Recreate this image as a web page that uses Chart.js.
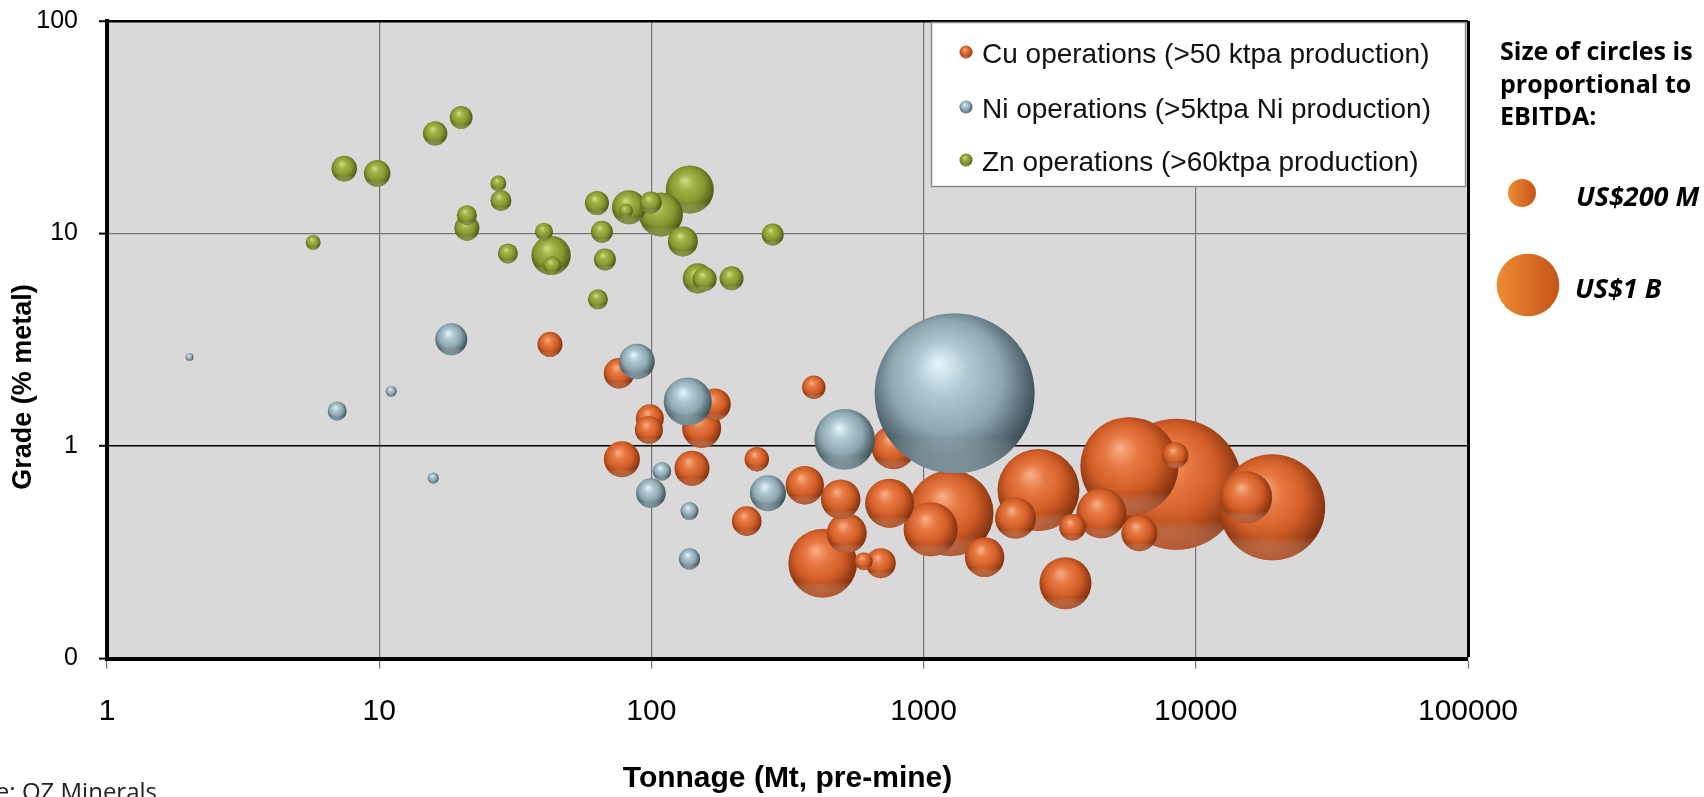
<!DOCTYPE html>
<html>
<head>
<meta charset="utf-8">
<title>Grade vs tonnage of base metal operations</title>
<script src="https://cdn.jsdelivr.net/npm/chart.js@4.4.1/dist/chart.umd.min.js"></script>
<style>
  html, body { margin: 0; padding: 0; background: #ffffff; overflow: hidden; }
  canvas { display: block; }
</style>
</head>
<body>
<canvas id="chart" width="1704" height="797"></canvas>
<script>
// ---- operations: tonnage (Mt, pre-mine), grade (% metal), EBITDA (US$ M) ----
const cuTonnage = [42.4, 76.0, 171, 153, 98.7, 97.9, 77.9, 141, 244, 395, 224, 366, 496, 522, 426, 602, 696,
                   750, 776, 1256, 1061, 1675, 2176, 2642, 3320, 3523, 4500, 5702, 8410, 8480, 6204, 15320, 19090];
const cuGrade   = [3.01, 2.20, 1.57, 1.21, 1.35, 1.19, 0.867, 0.786, 0.867, 1.89, 0.443, 0.654, 0.562, 0.389, 0.281, 0.287, 0.281,
                   0.538, 0.987, 0.483, 0.406, 0.300, 0.458, 0.620, 0.226, 0.415, 0.483, 0.804, 0.905, 0.661, 0.389, 0.574, 0.515];
const cuEbitda  = [159, 236, 261, 388, 200, 200, 331, 313, 152, 140, 224, 376, 400, 408, 1207, 83, 230,
                   612, 494, 1887, 744, 400, 429, 1715, 690, 180, 638, 2450, 172, 4378, 331, 690, 2866];

const niTonnage = [2.01, 7.01, 11.07, 15.8, 18.4, 88.5, 136, 109.3, 99.6, 138, 138, 268, 513, 1300];
const niGrade   = [2.62, 1.46, 1.81, 0.706, 3.18, 2.50, 1.62, 0.761, 0.600, 0.494, 0.294, 0.600, 1.076, 1.77];
const niEbitda  = [16, 92, 31, 31, 261, 323, 588, 88, 224, 83, 115, 331, 937, 6531];

const znTonnage = [5.72, 7.44, 9.83, 16.05, 20.0, 27.4, 28.0, 21.0, 21.0, 29.7, 40.3, 42.8, 43.2, 63.1,
                   65.8, 67.5, 63.6, 82.7, 80.6, 99.5, 108.4, 138.4, 130.5, 148, 157, 197, 279];
const znGrade   = [9.08, 20.2, 19.2, 29.6, 35.2, 17.2, 14.3, 12.2, 10.6, 8.06, 10.2, 7.89, 7.08, 13.9,
                   10.2, 7.55, 4.90, 13.3, 12.8, 14.0, 12.3, 16.1, 9.18, 6.15, 6.1, 6.15, 9.9];
const znEbitda  = [57, 167, 180, 152, 133, 65, 113, 102, 160, 102, 83, 396, 83, 147,
                   123, 123, 102, 295, 50, 123, 494, 588, 230, 230, 147, 147, 123];

const seriesLabels = ['Cu operations (>50 ktpa production)',
                      'Ni operations (>5ktpa Ni production)',
                      'Zn operations (>60ktpa production)'];
const xTickValues = [1, 10, 100, 1000, 10000, 100000];
const xTickLabels = ['1', '10', '100', '1000', '10000', '100000'];
const yTickValues = [0.1, 1, 10, 100];
const yTickLabels = ['0', '1', '10', '100'];
const sizeKeyValues = [200, 1000];
const sizeKeyLabels = ['US$200 M', 'US$1 B'];
const sizeNoteLines = ['Size of circles is', 'proportional to', 'EBITDA:'];
const xTitle = 'Tonnage (Mt, pre-mine)';
const yTitle = 'Grade (% metal)';
const sourceNote = 'Source: OZ Minerals';

// bubble area is proportional to EBITDA; a US$200 M operation gets a 14 px radius
const REF_EBITDA = 200, REF_RADIUS = 14;
const radiusFor = e => REF_RADIUS * Math.sqrt(e / REF_EBITDA);

const toPoints = (t, g, e) => t.map((v, i) => ({ x: v, y: g[i], r: radiusFor(e[i]) }));

// plot frame (px) inside the 1704 x 797 canvas
const PLOT_TOP = 21, PLOT_BOTTOM = 658.5, PLOT_LEFT = 107, PLOT_RIGHT = 1468;
const CANVAS_W = 1704, CANVAS_H = 797;

// shaded-sphere colours per series: highlight, light body, body, shadow edge, bottom reflection
const palettes = [
  { hi: '#F8AD84', mid: '#E77A44', base: '#D25E27', dark: '#7A2C0C', rim: 'rgba(236,120,70,0.55)' },
  { hi: '#E2F5FB', mid: '#AFC9D2', base: '#8DA6B0', dark: '#34474E', rim: 'rgba(170,200,210,0.55)' },
  { hi: '#CFDC84', mid: '#A3B247', base: '#88972F', dark: '#485215', rim: 'rgba(175,190,85,0.55)' }
];

function drawSphere(ctx, x, y, r, p) {
  const g = ctx.createRadialGradient(x - r * 0.2, y - r * 0.38, r * 0.02, x - r * 0.05, y - r * 0.1, r * 1.12);
  g.addColorStop(0, p.hi);
  g.addColorStop(0.28, p.mid);
  g.addColorStop(0.62, p.base);
  g.addColorStop(1, p.dark);
  ctx.beginPath();
  ctx.arc(x, y, r, 0, Math.PI * 2);
  ctx.fillStyle = g;
  ctx.fill();
  const g2 = ctx.createLinearGradient(0, y + r * 0.55, 0, y + r);
  g2.addColorStop(0, 'rgba(255,255,255,0)');
  g2.addColorStop(1, p.rim);
  ctx.fillStyle = g2;
  ctx.fill();
}

const plotBackground = {
  id: 'plotBackground',
  beforeDraw(chart) {
    const { ctx, chartArea: a } = chart;
    ctx.save();
    ctx.fillStyle = '#D9D9D9';
    ctx.fillRect(a.left, a.top, a.right - a.left, a.bottom - a.top);
    ctx.restore();
  }
};

// bubbles are painted as shaded spheres, largest first within each series
const sphereBubbles = {
  id: 'sphereBubbles',
  beforeDatasetsDraw(chart) {
    const { ctx, chartArea: a } = chart;
    ctx.save();
    ctx.beginPath();
    ctx.rect(a.left, a.top, a.right - a.left, a.bottom - a.top);
    ctx.clip();
    chart.data.datasets.forEach((ds, di) => {
      const els = chart.getDatasetMeta(di).data.slice()
        .sort((p, q) => q.options.radius - p.options.radius);
      els.forEach(el => drawSphere(ctx, el.x, el.y, el.options.radius, palettes[di]));
    });
    ctx.restore();
    return false;
  }
};

const annotations = {
  id: 'annotations',
  afterDraw(chart) {
    const { ctx, chartArea: a } = chart;
    ctx.save();

    // legend box in the top-right corner of the plot
    const lx = a.right - 537, ly = a.top + 1, lw = 535, lh = 165;
    ctx.fillStyle = '#ffffff';
    ctx.fillRect(lx, ly, lw, lh);
    ctx.strokeStyle = '#8a8a8a';
    ctx.lineWidth = 1.5;
    ctx.strokeRect(lx + 0.5, ly + 0.5, lw - 1, lh - 1);
    const rows = [34, 89, 142];
    ctx.font = '28px "Liberation Sans", Arial, sans-serif';
    ctx.textBaseline = 'middle';
    ctx.textAlign = 'left';
    chart.data.datasets.forEach((ds, i) => {
      drawSphere(ctx, a.right - 502, a.top + rows[i] - 3, 6.5, palettes[i]);
      ctx.fillStyle = '#111111';
      ctx.fillText(ds.label, a.right - 486, a.top + rows[i]);
    });

    // vertical axis title
    ctx.save();
    ctx.translate(24, 387);
    ctx.rotate(-Math.PI / 2);
    ctx.font = 'bold 27px "Liberation Sans", Arial, sans-serif';
    ctx.fillStyle = '#000000';
    ctx.textAlign = 'center';
    ctx.textBaseline = 'middle';
    ctx.fillText(yTitle, 0, 0);
    ctx.restore();

    // bubble size key
    const kx = a.right + 32;
    ctx.font = 'bold 25px "Open Sans", "Noto Sans", sans-serif';
    ctx.fillStyle = '#000000';
    ctx.textAlign = 'left';
    ctx.textBaseline = 'middle';
    sizeNoteLines.forEach((t, i) => ctx.fillText(t, kx, 53 + i * 32.5));
    const keyCx = [a.right + 54, a.right + 60];
    const keyCy = [193, 285];
    const labelX = [a.right + 108, a.right + 107];
    const labelY = [198, 290];
    sizeKeyValues.forEach((v, i) => {
      const r = radiusFor(v);
      const g = ctx.createLinearGradient(keyCx[i] - r, 0, keyCx[i] + r, 0);
      g.addColorStop(0, '#EE8C32');
      g.addColorStop(1, '#C4541A');
      ctx.beginPath();
      ctx.arc(keyCx[i], keyCy[i], r, 0, Math.PI * 2);
      ctx.fillStyle = g;
      ctx.fill();
      ctx.font = 'italic bold 27px "Open Sans", "Noto Sans", sans-serif';
      ctx.fillStyle = '#000000';
      ctx.fillText(sizeKeyLabels[i], labelX[i], labelY[i]);
    });

    // source line, running off the lower-left edge
    ctx.font = '24px "Open Sans", "Noto Sans", sans-serif';
    ctx.fillStyle = '#222222';
    ctx.textAlign = 'right';
    ctx.textBaseline = 'alphabetic';
    ctx.fillText(sourceNote, 157, 800);

    ctx.restore();
  }
};

const tickValueOf = c => (c.tick ? c.tick.value : null);

new Chart(document.getElementById('chart'), {
  type: 'bubble',
  data: {
    datasets: [
      { label: seriesLabels[0], data: toPoints(cuTonnage, cuGrade, cuEbitda), backgroundColor: '#D25E27' },
      { label: seriesLabels[1], data: toPoints(niTonnage, niGrade, niEbitda), backgroundColor: '#8DA6B0' },
      { label: seriesLabels[2], data: toPoints(znTonnage, znGrade, znEbitda), backgroundColor: '#88972F' }
    ]
  },
  options: {
    responsive: false,
    animation: false,
    devicePixelRatio: 1,
    layout: {
      autoPadding: false,
      padding: { left: 0, right: CANVAS_W - PLOT_RIGHT, top: PLOT_TOP, bottom: 0 }
    },
    plugins: { legend: { display: false }, tooltip: { enabled: false } },
    scales: {
      x: {
        type: 'logarithmic',
        min: xTickValues[0],
        max: xTickValues[xTickValues.length - 1],
        afterBuildTicks: s => { s.ticks = xTickValues.map(v => ({ value: v })); },
        afterFit: s => { s.height = CANVAS_H - PLOT_BOTTOM; s.paddingLeft = 0; s.paddingRight = 0; },
        ticks: {
          autoSkip: false, maxRotation: 0, padding: 25, color: '#000000',
          font: { family: '"Liberation Sans", Arial, sans-serif', size: 30 },
          callback: v => xTickLabels[xTickValues.indexOf(v)]
        },
        grid: {
          color: c => tickValueOf(c) === 100000 ? '#000000' : '#767676',
          lineWidth: c => tickValueOf(c) === 100000 ? 3 : 1.2,
          tickColor: '#767676', tickWidth: 1.2, tickLength: 10
        },
        border: { color: '#000000', width: 4 },
        title: {
          display: true, text: xTitle, color: '#000000',
          font: { family: '"Liberation Sans", Arial, sans-serif', size: 30, weight: 'bold' },
          padding: { top: 0, bottom: 0 }
        }
      },
      y: {
        type: 'logarithmic',
        min: yTickValues[0],
        max: yTickValues[yTickValues.length - 1],
        afterBuildTicks: s => { s.ticks = yTickValues.map(v => ({ value: v })); },
        afterFit: s => { s.width = PLOT_LEFT; s.paddingTop = 0; s.paddingBottom = 0; },
        ticks: {
          autoSkip: false, padding: 21, color: '#000000',
          font: { family: '"Liberation Sans", Arial, sans-serif', size: 25 },
          callback: v => yTickLabels[yTickValues.indexOf(v)]
        },
        grid: {
          color: c => { const v = tickValueOf(c); return (v === 100 || v === 1) ? '#000000' : '#767676'; },
          lineWidth: c => { const v = tickValueOf(c); return v === 100 ? 2.5 : (v === 1 ? 1.6 : 1.2); },
          tickColor: '#000000', tickWidth: 2, tickLength: 8
        },
        border: { color: '#000000', width: 4 },
        title: { display: false }
      }
    }
  },
  plugins: [plotBackground, sphereBubbles, annotations]
});
</script>
</body>
</html>
